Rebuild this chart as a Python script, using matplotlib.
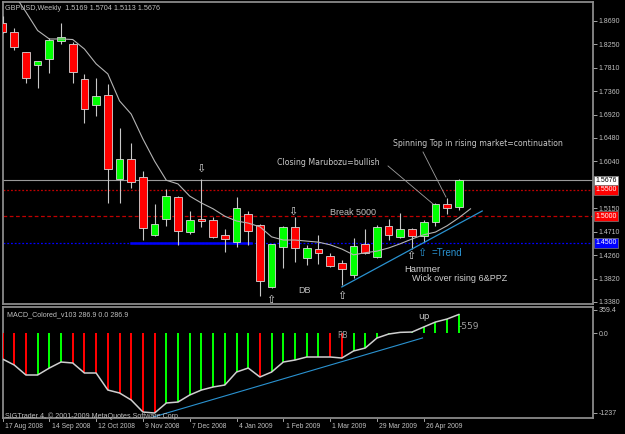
import matplotlib
matplotlib.use("Agg")
import matplotlib.pyplot as plt
import matplotlib.transforms as mtransforms
import numpy as np

# weekly GBPUSD candles, 17 Aug 2008 .. 17 May 2009
opens  = [1.8652, 1.8482, 1.8104, 1.7858, 1.7972, 1.8312, 1.8255, 1.7594, 1.7102, 1.7291,
          1.5704, 1.6082, 1.5742, 1.4645, 1.4948, 1.5364, 1.4702, 1.4948, 1.4929, 1.4645,
          1.4513, 1.5042, 1.4834, 1.3663, 1.4419, 1.4797, 1.4211, 1.4381, 1.4249, 1.4116,
          1.3889, 1.4475, 1.4230, 1.4816, 1.4608, 1.4759, 1.4626, 1.4891, 1.5231, 1.5169]
highs  = [1.8785, 1.8558, 1.8110, 1.7940, 1.8369, 1.8652, 1.8293, 1.7688, 1.7613, 1.7499,
          1.6668, 1.6384, 1.5855, 1.5231, 1.5515, 1.5383, 1.5099, 1.5704, 1.4986, 1.4759,
          1.5364, 1.5099, 1.4853, 1.4480, 1.4816, 1.4986, 1.4456, 1.4645, 1.4305, 1.4173,
          1.4589, 1.4759, 1.4834, 1.4948, 1.5061, 1.4778, 1.4929, 1.5250, 1.5345, 1.5704]
lows   = [1.8463, 1.8142, 1.7518, 1.7424, 1.7707, 1.8255, 1.7518, 1.6762, 1.6895, 1.5250,
          1.5250, 1.5534, 1.4551, 1.4626, 1.4816, 1.4456, 1.4664, 1.4797, 1.4590, 1.4324,
          1.4419, 1.4456, 1.3492, 1.3650, 1.4022, 1.4135, 1.4078, 1.4097, 1.4040, 1.3700,
          1.3833, 1.4290, 1.4215, 1.4551, 1.4590, 1.4381, 1.4513, 1.4816, 1.5042, 1.5113]
closes = [1.8482, 1.8199, 1.7613, 1.7934, 1.8331, 1.8388, 1.7726, 1.7027, 1.7273, 1.5893,
          1.6082, 1.5647, 1.4778, 1.4853, 1.5383, 1.4721, 1.4929, 1.4910, 1.4608, 1.4570,
          1.5156, 1.4721, 1.3776, 1.4475, 1.4797, 1.4400, 1.4400, 1.4305, 1.4060, 1.4003,
          1.4437, 1.4305, 1.4797, 1.4645, 1.4759, 1.4626, 1.4891, 1.5231, 1.5156, 1.5676]

# 6-period MA, shifted one bar forward
ma6 = [1.952, 1.919, 1.886, 1.851, 1.835, 1.835, 1.834, 1.816, 1.788, 1.769,
       1.718, 1.693, 1.646, 1.604, 1.568, 1.561, 1.538, 1.525, 1.514, 1.500,
       1.491, 1.487, 1.480, 1.461, 1.455, 1.455, 1.453, 1.451, 1.446, 1.438,
       1.427, 1.431, 1.434, 1.440, 1.448, 1.457, 1.465, 1.470, 1.482, 1.497, 1.514]

macd = [-403, -496, -651, -651, -543, -450, -465, -620, -620, -884,
        -930, -1039, -1225, -1240, -1085, -1070, -961, -884, -837, -806,
        -605, -543, -682, -605, -450, -419, -372, -372, -372, -388,
        -279, -233, -78, -16, 10, 15, 93, 170, 217, 287]
macd_up = [0, 0, 0, 1, 1, 1, 0, 0, 0, 0, 0, 0, 0, 0, 1, 1, 1, 1, 1, 1,
           1, 1, 0, 1, 1, 1, 1, 1, 0, 0, 1, 1, 1, 1, 1, 1, 1, 1, 1, 1]

date_labels = ["17 Aug 2008", "14 Sep 2008", "12 Oct 2008", "9 Nov 2008", "7 Dec 2008",
               "4 Jan 2009", "1 Feb 2009", "1 Mar 2009", "29 Mar 2009", "26 Apr 2009"]
price_ticks = [1.8690, 1.8250, 1.7810, 1.7360, 1.6920, 1.6480, 1.6040,
               1.5150, 1.4710, 1.4260, 1.3820, 1.3380]
levels = [1.5676, 1.5500, 1.5000, 1.4500]

BG = "#000000"
FG = "#c0c0c0"
FRAME = "#8a8a8a"
small = ["DejaVu Sans Condensed", "Liberation Sans"]

fig = plt.figure(figsize=(6.25, 4.34), dpi=100, facecolor=BG)
ax = fig.add_axes([3/625, 130/434, 590/625, 302/434], facecolor=BG)
ax2 = fig.add_axes([3/625, 16/434, 590/625, 111/434], facecolor=BG)

x = np.arange(len(opens))
for a in (ax, ax2):
    a.set_xlim(0.04, 50.47)
    for s in a.spines.values():
        s.set_color(FRAME)
        s.set_linewidth(1.3)
    a.yaxis.tick_right()
    a.tick_params(axis="y", colors=FG, direction="out", length=3, width=0.6,
                  labelsize=5, pad=1)
    a.set_xticks([])

# ---- price panel ----
ax.set_ylim(1.3341, 1.9049)
ax.set_yticks(price_ticks)
ax.set_yticklabels(["%.4f" % v for v in price_ticks], family=small, fontsize=5)

o = np.array(opens); c = np.array(closes)
up = c >= o
ax.vlines(x, lows, highs, color="#c8c8c8", lw=0.8, zorder=3)
ax.bar(x, np.abs(c - o) + 0.0008, bottom=np.minimum(o, c) - 0.0004, width=0.66,
       color=np.where(up, "#00ff00", "#ff0000"), edgecolor="#d8d8d8", lw=0.6, zorder=4)

ax.plot(np.arange(len(ma6)), ma6, color="#b4b4b4", lw=0.8, zorder=5)

# horizontal levels
ax.axhline(levels[0], color="#9a9a9a", lw=0.8, zorder=2)
ax.axhline(levels[1], color="#c00000", lw=0.9, ls=(0, (1.5, 1.5)), zorder=2)
ax.axhline(levels[2], color="#c00000", lw=0.9, ls=(0, (3, 2)), zorder=2)
ax.axhline(levels[3], color="#0000ff", lw=0.9, ls=(0, (1.5, 1.5)), zorder=2)
ax.plot([11.0, 21.2], [levels[3], levels[3]], color="#0000ff", lw=1.8, zorder=2)

# trend line
ax.plot([29.0, 41.0], [1.3663, 1.5099], color="#2a92d0", lw=0.9, zorder=6)

# price boxes on the axis
trans = mtransforms.blended_transform_factory(ax.transAxes, ax.transData)
box_style = [("#ffffff", "#000000"), ("#ff0000", "#ffffff"),
             ("#ff0000", "#ffffff"), ("#0000ff", "#ffffff")]
for lv, (bg, fg) in zip(levels, box_style):
    ax.text(1.004, lv, "%.4f" % lv, transform=trans, fontsize=5, family=small,
            color=fg, va="center", ha="left", clip_on=False,
            bbox=dict(boxstyle="square,pad=0.2", fc=bg, ec="#808080", lw=0.5))

# annotations
ax.text(0.004, 0.978, "GBPUSD,Weekly  1.5169 1.5704 1.5113 1.5676", transform=ax.transAxes,
        color=FG, fontsize=5.2, family=small, va="center")
ax.text(23.46, 1.6006, "Closing Marubozu=bullish", color="#c8c8c8", fontsize=5.7, va="center")
ax.plot([32.95, 36.8], [1.5950, 1.5231], color="#a0a0a0", lw=0.6)
ax.text(33.38, 1.6384, "Spinning Top in rising market=continuation", color="#c8c8c8",
        fontsize=5.6, va="center")
ax.plot([35.94, 37.9], [1.6214, 1.5364], color="#a0a0a0", lw=0.6)
ax.text(28.0, 1.5061, "Break 5000", color="#c0c0c0", fontsize=6.5,
        family="Liberation Sans", va="center")
ax.text(25.3, 1.3587, "DB", color="#c0c0c0", fontsize=6.5, family="Liberation Sans", va="center")
ax.text(34.3, 1.3984, "Hammer", color="#d0d0d0", fontsize=6.8, family="Liberation Sans",
        va="center")
ax.text(35.0, 1.3814, "Wick over rising 6&PPZ", color="#d0d0d0", fontsize=6.5,
        family="Liberation Sans", va="center")
ax.text(35.85, 1.4305, "\u21e7", color="#2a92d0", fontsize=8, ha="center", va="center")
ax.text(36.7, 1.4305, "=Trend", color="#2a92d0", fontsize=7, family="Liberation Sans",
        va="center")
for ax_x, ax_y, ch in [(16.97, 1.5893, "\u21e9"), (24.83, 1.5080, "\u21e9"),
                       (22.95, 1.3417, "\u21e7"), (29.0, 1.3490, "\u21e7"),
                       (34.9, 1.4249, "\u21e7")]:
    ax.text(ax_x, ax_y, ch, color="#d8d8d8", fontsize=8, ha="center", va="center",
            clip_on=False, zorder=7)

# ---- MACD panel ----
ax2.set_ylim(-1317.5, 403)
ax2.set_yticks([359.4, 0, -1237])
ax2.set_yticklabels(["359.4", "0.0", "-1237"], family=small, fontsize=5)
ax2.bar(x, macd, width=0.17, color=["#00ff00" if u else "#ff0000" for u in macd_up], zorder=3)
ax2.plot(x, macd, color="#cfcfcf", lw=1.1, zorder=4)
ax2.plot([12.6, 35.9], [-1317, -77], color="#2a92d0", lw=0.8, zorder=2)
ax2.text(0.006, 0.93, "MACD_Colored_v103 286.9 0.0 286.9", transform=ax2.transAxes,
         color=FG, fontsize=5.1, family=small, va="center")
ax2.text(0.004, 0.02, "SIGTrader 4, \u00a9 2001-2009 MetaQuotes Software Corp.",
         transform=ax2.transAxes, color=FG, fontsize=5.1, family=small, va="center")
ax2.text(28.6, -46, "RB", color="#a0a0a0", fontsize=5.5, va="center")
ax2.text(35.5, 263, "up", color="#c0c0c0", fontsize=6.5, va="center")
ax2.text(39.0, 108, "-559", color="#a0a0a0", fontsize=6.5, va="center")

# date axis under the MACD panel
tr2 = mtransforms.blended_transform_factory(ax2.transData, ax2.transAxes)
for k, lab in enumerate(date_labels):
    xi = 4 * k
    ax2.plot([xi, xi], [-0.005, -0.03], transform=tr2, color=FG, lw=0.6, clip_on=False)
    ax2.text(xi + 0.2, -0.075, lab, transform=tr2, color=FG, fontsize=4.9, family=small,
             ha="left", va="center", clip_on=False)

fig.savefig("out.png", dpi=100, facecolor=BG)
